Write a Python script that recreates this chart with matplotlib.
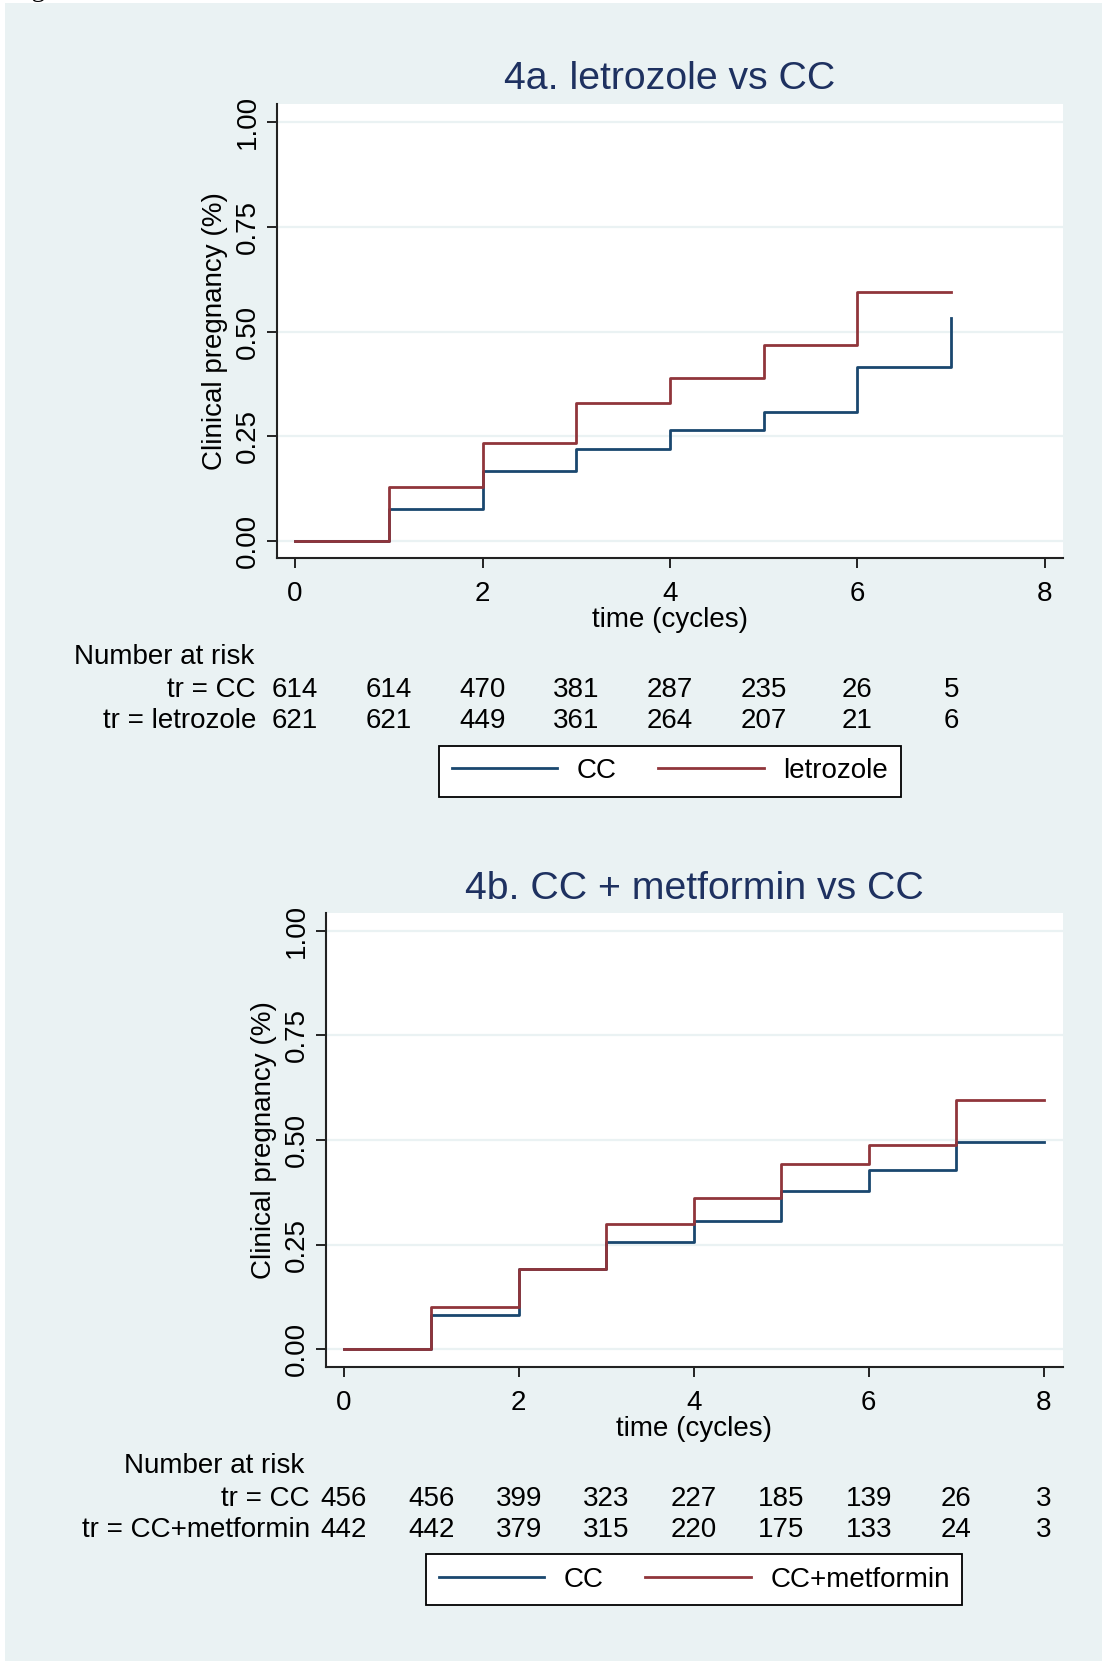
import matplotlib
matplotlib.use("Agg")
import matplotlib.pyplot as plt
from matplotlib.lines import Line2D
from matplotlib.patches import Rectangle
from matplotlib.transforms import blended_transform_factory

# ------------------------ DATA ------------------------

# 4a. letrozole vs CC
TIMES_A = [0, 1, 2, 3, 4, 5, 6, 7]
CC_A = [0.0, 0.076, 0.168, 0.220, 0.265, 0.309, 0.416, 0.533]
LETRO_A = [0.0, 0.129, 0.234, 0.329, 0.390, 0.467, 0.594, 0.594]
RISK_CC_A = [614, 614, 470, 381, 287, 235, 26, 5]
RISK_LETRO_A = [621, 621, 449, 361, 264, 207, 21, 6]

# 4b. CC + metformin vs CC
TIMES_B = [0, 1, 2, 3, 4, 5, 6, 7, 8]
CC_B = [0.0, 0.082, 0.191, 0.256, 0.307, 0.378, 0.428, 0.495, 0.495]
MET_B = [0.0, 0.100, 0.191, 0.299, 0.362, 0.442, 0.487, 0.595, 0.595]
RISK_CC_B = [456, 456, 399, 323, 227, 185, 139, 26, 3]
RISK_MET_B = [442, 442, 379, 315, 220, 175, 133, 24, 3]

# ------------------------ STYLE ------------------------

W, H = 1102, 1661
BG = "#eaf2f3"
NAVY = "#1a476f"
MAROON = "#90353b"
TITLE_COLOR = "#1e3160"
AXIS_COLOR = "#222222"

plt.rcParams["font.family"] = ["Liberation Sans", "DejaVu Sans"]


def px_x(x):
    return x / W


def px_y(y):
    # pixel row (from top) -> figure fraction
    return 1 - y / H


def km_panel(fig, box, xlim, ylim, times, s1, s2, names, risk1, risk2,
             title, label_right, nar_left):
    """Draw one Kaplan-Meier style panel with its at-risk table and legend."""
    left, top, right, bottom = box
    ax = fig.add_axes([px_x(left), px_y(bottom), px_x(right - left), (bottom - top) / H])
    ax.set_facecolor("white")

    ax.plot(times, s1, drawstyle="steps-post", color=NAVY, lw=2.0, zorder=3)
    ax.plot(times, s2, drawstyle="steps-post", color=MAROON, lw=2.0, zorder=4)

    ax.set_xlim(*xlim)
    ax.set_ylim(*ylim)
    ax.set_xticks([0, 2, 4, 6, 8])
    ax.set_yticks([0, 0.25, 0.5, 0.75, 1.0])
    ax.set_yticklabels(["0.00", "0.25", "0.50", "0.75", "1.00"])
    ax.yaxis.grid(True, color=BG, lw=1.6)
    ax.set_axisbelow(True)

    for s in ("top", "right"):
        ax.spines[s].set_visible(False)
    for s in ("left", "bottom"):
        ax.spines[s].set_color(AXIS_COLOR)
        ax.spines[s].set_linewidth(1.5)

    ax.tick_params(axis="both", direction="out", length=7.5, width=1.4,
                   color=AXIS_COLOR, labelsize=20)
    ax.tick_params(axis="x", pad=9)
    ax.tick_params(axis="y", pad=4, labelrotation=90)
    for lab in ax.get_yticklabels():
        lab.set_va("center")

    ax.set_xlabel("time (cycles)", fontsize=20, labelpad=0)
    ax.set_ylabel("Clinical pregnancy (%)", fontsize=20, labelpad=5)
    ax.set_title(title, fontsize=28.3, color=TITLE_COLOR, pad=10.5)

    # number at risk table
    tr = blended_transform_factory(ax.transData, fig.transFigure)
    fig.text(px_x(nar_left), px_y(bottom + 106), "Number at risk",
             fontsize=20, va="baseline", ha="left")
    for row, (name, vals) in enumerate([(names[0], risk1), (names[1], risk2)]):
        yb = px_y(bottom + 139 + 31 * row)
        fig.text(px_x(label_right), yb, "tr = " + name, fontsize=20,
                 va="baseline", ha="right")
        for t, v in zip(times, vals):
            ax.text(t, yb, str(v), transform=tr, fontsize=20,
                    va="baseline", ha="center", clip_on=False)

    handles = [Line2D([], [], color=NAVY, lw=2.0),
               Line2D([], [], color=MAROON, lw=2.0)]
    leg = ax.legend(handles, names, loc="center",
                    bbox_to_anchor=(px_x((left + right) / 2), px_y(bottom + 213)),
                    bbox_transform=fig.transFigure, ncol=2, fontsize=20,
                    fancybox=False, framealpha=1, edgecolor="black",
                    handlelength=3.8, handletextpad=0.7, columnspacing=1.5,
                    borderpad=0.45)
    leg.get_frame().set_linewidth(1.3)
    return ax


def main():
    fig = plt.figure(figsize=(W / 100, H / 100), dpi=100, facecolor="white")
    fig.add_artist(Rectangle((px_x(5), 0), 1 - px_x(5), px_y(3),
                             transform=fig.transFigure, facecolor=BG,
                             edgecolor="none", zorder=-10))

    # cut-off figure caption above the canvas (only the descender shows)
    fig.text(px_x(8), px_y(-4), "Figure 4", fontsize=20, va="baseline",
             ha="left", family=["Liberation Serif", "DejaVu Serif"])

    km_panel(fig, (277, 104, 1063, 558), (-0.192, 8.192), (-0.0406, 1.0437),
             TIMES_A, CC_A, LETRO_A, ["CC", "letrozole"],
             RISK_CC_A, RISK_LETRO_A, "4a. letrozole vs CC",
             label_right=256, nar_left=74)

    km_panel(fig, (325.7, 913.3, 1062.7, 1366.7), (-0.2057, 8.217), (-0.0416, 1.0416),
             TIMES_B, CC_B, MET_B, ["CC", "CC+metformin"],
             RISK_CC_B, RISK_MET_B, "4b. CC + metformin vs CC",
             label_right=310, nar_left=124)

    fig.savefig("out.png", dpi=100)
    plt.close(fig)


if __name__ == "__main__":
    main()
